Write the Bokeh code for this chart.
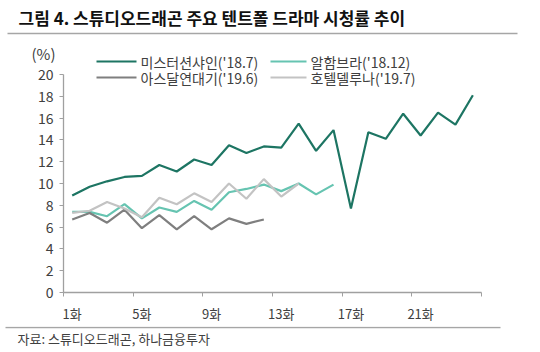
from bokeh.plotting import figure
from bokeh.layouts import column, row
from bokeh.models import Range1d, FixedTicker
from bokeh.core.properties import value
from bokeh.embed import file_html
from bokeh.resources import INLINE

# ---- data ----
series_names = ["미스터션샤인('18.7)", "알함브라('18.12)", "아스달연대기('19.6)", "호텔델루나('19.7)"]
mr_sunshine = [8.9, 9.7, 10.2, 10.6, 10.7, 11.7, 11.1, 12.2, 11.7, 13.5, 12.8, 13.4,
               13.3, 15.5, 13.0, 14.9, 7.7, 14.7, 14.1, 16.4, 14.4, 16.5, 15.4, 18.1]
alhambra = [7.4, 7.4, 7.0, 8.1, 6.8, 7.8, 7.4, 8.4, 7.6, 9.2, 9.5, 9.9, 9.3, 10.0, 9.0, 9.9]
arthdal = [6.7, 7.3, 6.4, 7.6, 5.9, 7.1, 5.8, 7.0, 5.8, 6.8, 6.3, 6.7]
hotel = [7.3, 7.5, 8.3, 7.7, 6.9, 8.7, 8.1, 9.1, 8.3, 10.0, 8.6, 10.4, 8.8, 10.0]
x_tick_values = [1, 5, 9, 13, 17, 21]
x_tick_labels = ["1화", "5화", "9화", "13화", "17화", "21화"]
y_tick_values = [0, 2, 4, 6, 8, 10, 12, 14, 16, 18, 20]
n_categories = 24

title_text = "그림 4. 스튜디오드래곤 주요 텐트폴 드라마  시청률 추이"
source_text = "자료: 스튜디오드래곤, 하나금융투자"
unit_text = "(%)"

colors = ["#1d7563", "#66c4b1", "#7f7f7f", "#c3c3c3"]
FONT = "Noto Sans CJK KR"
TXT = "#404040"
RULE = "#a6a6a6"

W = 540
TOP_H = 72          # top strip height
MAIN_TOP = 62       # where the (transparent) main figure starts
OVERLAP = TOP_H - MAIN_TOP
BOT_H = 26
MID_H = 352 - MAIN_TOP - BOT_H
LEFT = 63
BOTTOM_BORDER = 34
PX_PER_EP = 17.42
PX_PER_UNIT = 10.9


def blank(h):
    f = figure(width=W, height=h, output_backend="svg", toolbar_location=None,
               x_range=Range1d(0, W), y_range=Range1d(h, 0),
               min_border=0, min_border_left=0, min_border_right=0,
               min_border_top=0, min_border_bottom=0)
    f.xaxis.visible = False
    f.yaxis.visible = False
    f.outline_line_color = None
    f.xgrid.visible = False
    f.ygrid.visible = False
    f.background_fill_color = "white"
    f.border_fill_color = "white"
    return f


# ---- top strip: title, rule, unit, legend row 1 ----
top = blank(TOP_H)
top.text(x=[18], y=[17], text=[title_text], text_font=value(FONT), text_font_style="bold",
         text_font_size="17px", text_color="#111111", text_baseline="middle", text_align="left")
top.line(x=[7, 517], y=[33, 33], line_color=RULE, line_width=1.5)
top.text(x=[43], y=[53], text=[unit_text], text_font=value(FONT), text_font_size="15px",
         text_color=TXT, text_baseline="middle", text_align="center")

legend_cols = [(96, 136, 140), (270, 306, 310)]
legend_rows_y = [61, 77]
LEG_FS = "14px"

for i, col in [(0, 0), (1, 1)]:
    x0, x1, xt = legend_cols[col]
    top.line(x=[x0, x1], y=[legend_rows_y[0]] * 2, line_color=colors[i], line_width=2.2)
    top.text(x=[xt], y=[legend_rows_y[0]], text=[series_names[i]], text_font=value(FONT),
             text_font_size=LEG_FS, text_color=TXT, text_baseline="middle", text_align="left")

# ---- main chart (transparent, overlapping the strip's lower edge) ----
frame_w = W - LEFT
frame_h = MID_H - BOTTOM_BORDER
x_max = 0.5 + frame_w / PX_PER_EP
y_max = frame_h / PX_PER_UNIT

p = figure(width=W, height=MID_H, output_backend="svg", toolbar_location=None,
           x_range=Range1d(0.5, x_max), y_range=Range1d(0, y_max),
           min_border_left=LEFT, min_border_right=0, min_border_top=0,
           min_border_bottom=BOTTOM_BORDER, margin=(-OVERLAP, 0, 0, 0))
p.outline_line_color = None
p.xgrid.visible = False
p.ygrid.visible = False
p.background_fill_alpha = 0
p.border_fill_alpha = 0

all_series = [mr_sunshine, alhambra, arthdal, hotel]
for vals, c in zip(all_series, colors):
    xs = list(range(1, len(vals) + 1))
    p.line(xs, vals, line_color=c, line_width=2.2)

xa = p.xaxis[0]
xa.bounds = (0.5, n_categories + 0.5)
xa.ticker = FixedTicker(ticks=x_tick_values,
                        minor_ticks=[v - 0.5 for v in x_tick_values] + [n_categories + 0.5])
xa.major_label_overrides = {v: l for v, l in zip(x_tick_values, x_tick_labels)}
xa.major_tick_line_color = None
xa.minor_tick_out = 4
xa.minor_tick_in = 0
xa.minor_tick_line_color = "#a0a0a0"
xa.axis_line_color = "#a0a0a0"
xa.axis_line_width = 1.3
xa.major_label_text_font = FONT
xa.major_label_text_font_size = "13px"
xa.major_label_text_color = TXT
xa.major_label_standoff = 5

ya = p.yaxis[0]
ya.bounds = (0, 20)
ya.ticker = FixedTicker(ticks=y_tick_values)
ya.minor_tick_line_color = None
ya.major_tick_out = 4
ya.major_tick_in = 0
ya.major_tick_line_color = "#a0a0a0"
ya.axis_line_color = "#a0a0a0"
ya.axis_line_width = 1.3
ya.major_label_text_font = FONT
ya.major_label_text_font_size = "14px"
ya.major_label_text_color = TXT
ya.major_label_standoff = 6


def px_to_x(px):
    return 0.5 + (px - LEFT) / PX_PER_EP


def py_to_y(py):
    return y_max - (py - MAIN_TOP) / PX_PER_UNIT


for i, col in [(2, 0), (3, 1)]:
    x0, x1, xt = legend_cols[col]
    yy = py_to_y(legend_rows_y[1])
    p.line(x=[px_to_x(x0), px_to_x(x1)], y=[yy, yy], line_color=colors[i], line_width=2.2)
    p.text(x=[px_to_x(xt)], y=[yy], text=[series_names[i]], text_font=value(FONT),
           text_font_size=LEG_FS, text_color=TXT, text_baseline="middle", text_align="left")

# ---- bottom strip: rule + source ----
bot = blank(BOT_H)
bot.line(x=[5, 500], y=[1, 1], line_color=RULE, line_width=1.3)
bot.text(x=[17], y=[12], text=[source_text], text_font=value(FONT), text_font_size="13px",
         text_color=TXT, text_baseline="middle", text_align="left")

layout = column(row(top), p, row(bot), spacing=0)
open("out.html", "w").write(file_html(layout, INLINE))
